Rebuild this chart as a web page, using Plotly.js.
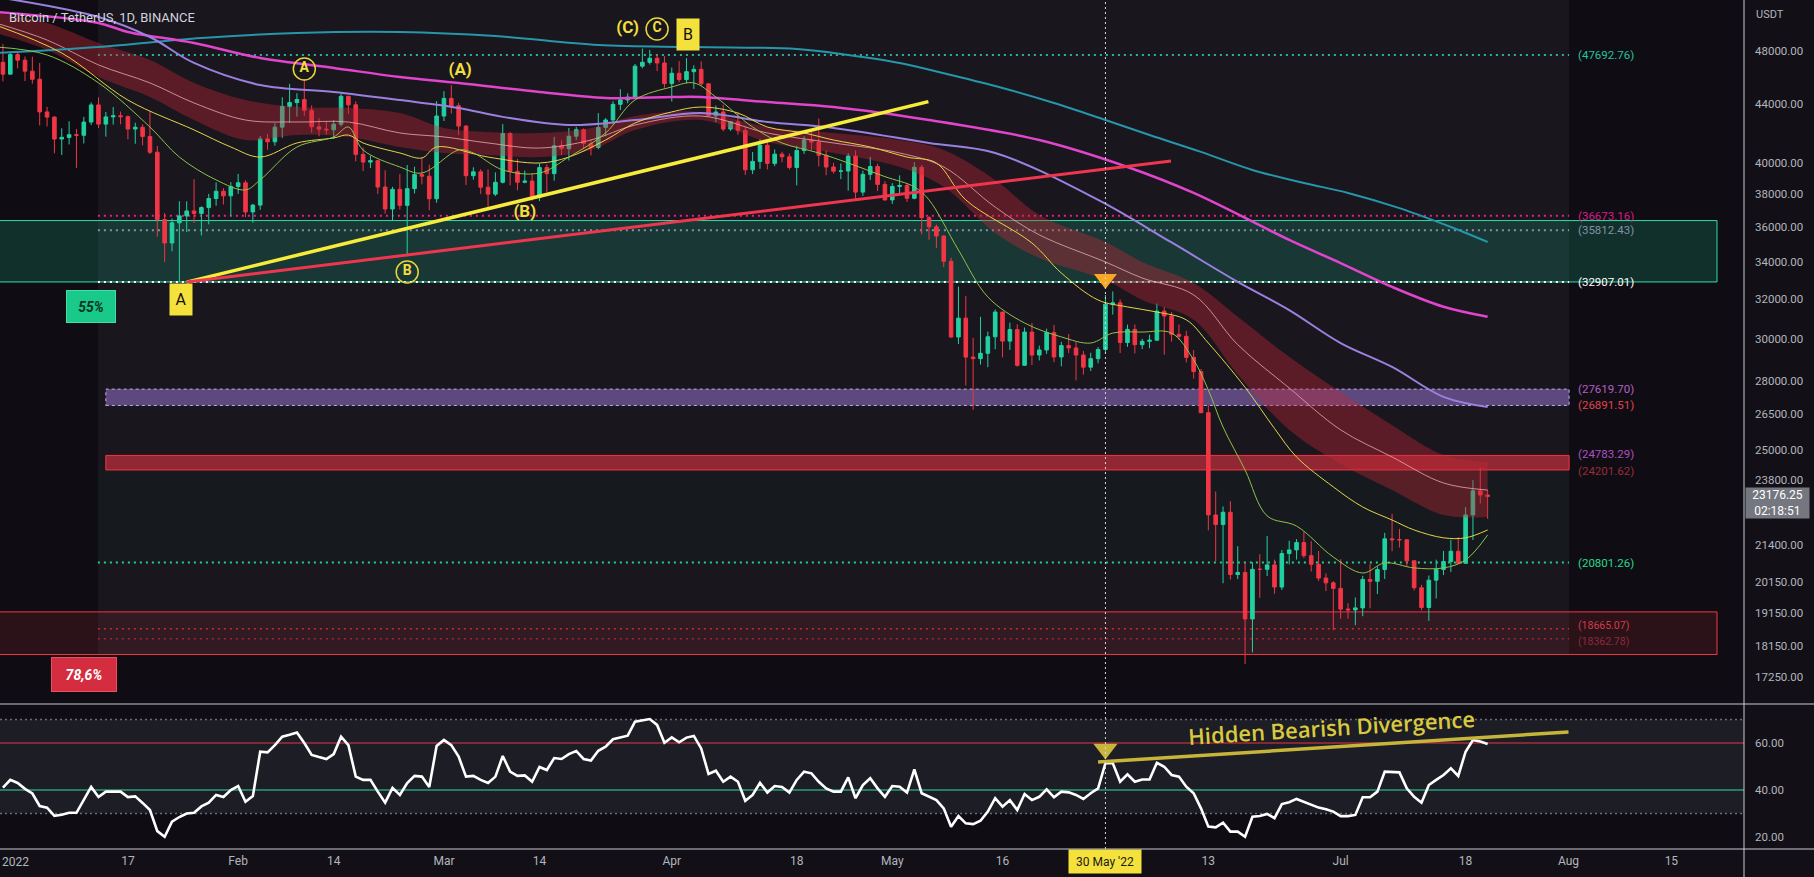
<!DOCTYPE html>
<html>
<head>
<meta charset="utf-8">
<title>BTCUSDT 1D</title>
<script src="https://cdn.plot.ly/plotly-3.0.1.min.js"></script>
<style>
  html, body { margin: 0; padding: 0; background: #121016; overflow: hidden; }
  #chart { width: 1814px; height: 877px; }
</style>
</head>
<body>
<div id="chart"></div>
<script>
// daily candles, 31 Dec 2021 .. 21 Jul 2022 (one value per day)
const opens = [
  47120,46217,47722,47286,46446,45832,43451,43082,41566,41679,
  41864,41822,42736,43949,42592,43099,43178,43114,42251,42375,
  41744,40680,36445,35071,36244,36660,36958,36809,37160,37716,
  38166,37881,38466,38694,36896,37311,41574,41382,42380,43840,
  44118,44338,43565,42407,42244,42197,42586,44575,43961,40538,
  40030,40122,38431,37075,38286,37296,38327,39219,39116,37700,
  43160,44421,43892,42455,39148,39397,38420,37988,38730,41941,
  39422,38730,38807,37777,39671,39281,41114,40917,41757,42201,
  41262,41002,42364,42882,43991,44313,44511,46827,47122,47434,
  47067,45510,46283,45811,46407,46580,45497,43170,43444,42252,
  42753,42158,39530,40074,41147,39942,40551,40378,39678,40801,
  41493,41358,40480,39709,39441,39450,40426,38112,39235,39742,
  38596,37630,38468,38525,37729,39690,36552,36013,35472,34039,
  30076,31017,29103,29030,29287,30086,31328,29874,30444,28715,
  30319,29201,29445,30293,29110,29655,29542,29201,28630,29031,
  29468,31734,31801,29805,30452,29700,29864,29919,31373,31125,
  30204,30109,29091,28424,26574,22485,22136,22583,20401,20468,
  18970,20574,20573,20723,19987,21110,21237,21492,21038,20742,
  20281,20123,19942,19279,19252,19316,20236,20175,20564,21624,
  21594,21591,20862,19963,19328,20212,20569,20836,21190,20780,
  22485,23389,23231
];
const highs = [
  48548,47954,47990,47570,47557,47070,43816,43145,42300,42786,
  42248,43100,44135,44500,43448,43800,43475,43200,42691,42578,
  43505,41100,36835,36499,37550,37545,38919,37234,38000,38720,
  38359,38744,39265,38855,37387,41772,41913,42656,44500,45492,
  44799,45821,43920,43000,42760,42876,44751,44578,44200,40998,
  40443,40150,39495,38439,39249,39843,39727,40300,39855,44225,
  44949,45400,44101,42527,39693,39566,39547,39362,42594,42039,
  40236,39486,39310,39947,39887,41718,41478,42325,42400,42296,
  41544,43361,43025,44220,45094,44792,46999,48189,48096,47700,
  47600,46720,47213,47444,46890,47200,45507,43900,43970,42800,
  43410,42414,40699,41561,41500,40870,40709,40595,41116,41760,
  42199,42976,40795,39980,39940,40616,40797,39474,40372,39925,
  38795,38675,39167,38650,40023,39845,36650,36146,35514,34243,
  32659,32162,30032,31083,30343,31460,31328,30788,30709,30545,
  30777,29656,30487,30670,29836,30223,29856,29397,29311,29587,
  32222,32399,31982,30689,30699,29988,30189,31765,31589,31327,
  30700,30382,29440,28544,26895,23362,22800,22995,21365,20792,
  20815,21090,21723,20900,21233,21558,21614,21868,21540,21200,
  20432,20179,20918,19467,19647,20354,20750,20675,21838,22527,
  21980,21607,20868,20059,20366,20900,21200,21588,21684,22777,
  23800,24276,23427
];
const lows = [
  45678,46208,46654,45696,45500,42500,42430,40610,40501,41200,
  39650,41268,42528,42311,41725,42555,42581,41540,41250,41138,
  40553,35440,34008,34601,32917,35701,36234,35507,36155,37268,
  37351,36632,38000,36586,36250,37026,40843,41116,41645,42666,
  43117,43174,42002,41748,41870,41571,42428,43308,40073,39450,
  39639,38000,36800,36351,37036,34322,38027,38600,37000,37450,
  42809,43334,41832,38550,38895,37999,37155,37867,38656,38540,
  38223,38660,37578,37555,38098,38828,40500,40136,41499,40911,
  40467,40875,41751,42560,43579,44072,44421,46663,46950,46445,
  45200,44200,45620,45530,45118,45353,43121,42727,42107,42125,
  41868,39200,39254,39588,39551,39766,40020,39546,38536,40571,
  40820,39751,39177,39285,38929,38200,37702,37881,38881,38175,
  37578,37386,38052,37500,37670,35571,35258,34785,33713,30033,
  29730,27785,26700,28751,28630,29480,29087,29450,28654,28694,
  28730,28947,29255,28866,28669,29294,28019,28282,28450,28811,
  29300,31200,29301,29594,29282,29485,29531,29890,29218,29843,
  29944,28850,28100,26560,21925,20846,20111,20232,20246,17622,
  17960,19637,20348,19770,19890,20740,20906,20960,20500,20188,
  19854,18626,18975,18977,18781,19055,19304,19761,20251,21189,
  21322,20655,19875,19240,18910,19616,20383,20478,20755,20762,
  21581,22906,22341
];
const closes = [
  46216,47722,47286,46446,45832,43451,43082,41566,41679,41864,
  41822,42736,43949,42592,43099,43178,43114,42251,42375,41744,
  40680,36445,35071,36244,36660,36958,36809,37160,37716,38166,
  37881,38466,38694,36896,37311,41574,41382,42380,43840,44118,
  44338,43565,42407,42244,42197,42586,44575,43961,40538,40030,
  40122,38431,37075,38286,37296,38327,39219,39116,37700,43160,
  44421,43892,42455,39148,39397,38420,37988,38730,41941,39422,
  38730,38807,37777,39671,39281,41114,40917,41757,42201,41262,
  41002,42364,42882,43991,44313,44511,46827,47122,47434,47067,
  45510,46283,45811,46407,46580,45497,43170,43444,42252,42753,
  42158,39530,40074,41147,39942,40551,40378,39678,40801,41493,
  41358,40480,39709,39441,39450,40426,38112,39235,39742,38596,
  37630,38468,38525,37729,39690,36552,36013,35472,34039,30076,
  31017,29103,29030,29287,30086,31328,29874,30444,28715,30319,
  29201,29445,30293,29110,29655,29542,29201,28630,29031,29468,
  31734,31801,29805,30452,29700,29864,29919,31373,31125,30204,
  30109,29091,28424,26574,22487,22136,22583,20401,20468,18970,
  20574,20573,20723,19987,21110,21237,21492,21038,20742,20281,
  20123,19942,19279,19252,19316,20236,20175,20564,21624,21594,
  21591,20862,19963,19328,20212,20569,20836,21190,20780,22485,
  23389,23231,23176.25
];
// RSI, same days
const rsi = [
  41,44.3,43,40.5,38.5,33.2,32.5,29,29.5,30.3,
  30.3,35.5,41.3,37,39.3,39.3,39.3,37,37.3,34.5,
  31.5,22.5,20.1,26.5,28.5,30,30.3,33,34.6,37.9,
  37,40,41.7,35,37.4,56.3,56,59.1,62.7,63.5,
  64.5,60,54.9,54,53.2,55.3,62.7,59.1,45.7,44.3,
  44.3,39.3,34.6,40.9,37.9,43,46,45.7,41.3,58.7,
  61.3,59.1,54.2,45.7,46,44.3,43,45.7,54.5,47.8,
  46,46.2,43.5,49.8,48.5,53.6,53.2,55.3,56.6,53.2,
  52.5,56.7,58.4,61.6,62.5,63.1,69.1,69.7,70.2,67.7,
  60.1,62.4,60.3,62.3,63,57.7,46.8,48.2,43.5,45.7,
  43.5,35.4,37.9,43.1,38.9,41.7,41.3,38.9,44.3,47.8,
  47.1,43.5,40.7,39.3,39.3,45.4,36.5,42.1,45,40.7,
  37.1,41.7,41.4,38.9,48.8,38.6,37.1,35.7,32.2,24.4,
  28.9,25.8,25.5,26.9,30.8,36.5,32.9,35.7,31.5,38.3,
  35.7,37.1,40.3,36.9,39.3,39,37.9,36.2,38.6,40.7,
  51.4,51.4,43.5,46.7,43.5,44.5,44.5,51.6,49.9,46.4,
  45.7,41.4,38.6,32.2,24.4,24.1,26.1,22.3,22.3,20.1,
  28.6,28.9,29.8,28,34,34.8,36.2,35,34,32.5,
  31.8,30.8,28.9,28.9,29.4,36.9,36.9,39.3,47.8,47.8,
  47.5,40.7,37.1,34.6,42.1,44.3,46.4,49.2,46,56.3,
  61.3,60.6,59.6
];

// moving averages
const tealDates = ['2021-12-30','2022-01-13','2022-01-27','2022-02-09','2022-02-23','2022-03-08','2022-03-22','2022-04-04','2022-04-18','2022-04-25','2022-05-02','2022-05-09','2022-05-16','2022-05-23','2022-05-30','2022-06-05','2022-06-12','2022-06-19','2022-06-26','2022-07-02','2022-07-09','2022-07-16','2022-07-21'];
const tealMA = [47840,48310,49030,49440,49520,49190,48470,48310,48160,47690,47070,46150,45180,44090,42880,41840,40700,39520,38690,38060,37130,36000,35130];

const magentaDates = ['2021-12-30','2022-01-13','2022-01-17','2022-01-26','2022-02-04','2022-02-14','2022-02-23','2022-03-03','2022-03-14','2022-03-23','2022-04-01','2022-04-05','2022-04-14','2022-04-23','2022-05-06','2022-05-21','2022-06-02','2022-06-11','2022-06-24','2022-07-01','2022-07-08','2022-07-15','2022-07-21'];
const magentaMA = [51160,50250,49520,48630,47450,46690,46000,45560,44890,44450,44520,44520,44160,43800,42880,41500,39710,38060,35250,33940,32640,31600,31090];

const lavenderDates = ['2021-12-30','2022-01-13','2022-01-20','2022-01-26','2022-02-04','2022-02-14','2022-02-23','2022-03-03','2022-03-09','2022-03-18','2022-03-27','2022-04-05','2022-04-14','2022-04-23','2022-05-06','2022-05-15','2022-05-29','2022-06-08','2022-06-17','2022-06-24','2022-07-01','2022-07-08','2022-07-15','2022-07-21'];
const lavenderMA = [52440,50740,49110,47070,45400,44890,44300,43730,43100,42530,42880,43370,42740,42330,41300,40630,37630,35100,32910,31430,29780,28640,27270,26820];

const ribbonDates = ['2021-12-30','2022-01-06','2022-01-13','2022-01-20','2022-01-26','2022-02-02','2022-02-09','2022-02-16','2022-02-23','2022-03-01','2022-03-07','2022-03-14','2022-03-21','2022-03-27','2022-04-05','2022-04-14','2022-04-23','2022-05-02','2022-05-08','2022-05-15','2022-05-21','2022-05-30','2022-06-04','2022-06-11','2022-06-17','2022-06-24','2022-07-01','2022-07-08','2022-07-15','2022-07-21'];
const ribbonUpper = [51080,50250,48630,47300,45560,44310,43800,43730,43370,42330,42050,41980,42330,43160,43450,42390,41980,41500,40830,38880,36720,35130,34000,32850,31090,29120,27490,26040,24800,24520];
const ribbonMid = [50250,48870,46920,45560,44090,42880,42740,42740,41980,41710,41300,40960,41500,42530,43160,41980,41300,40630,39710,37190,35540,34000,33120,32220,29700,27670,25840,24720,23690,23420];
const ribbonLower = [49440,48080,46000,44520,42880,41500,41840,41710,41030,40630,40500,40360,40830,42190,42880,41370,40630,39710,38440,35650,34220,33010,31950,30930,28290,25840,24440,23420,22480,22410];

const yellowDates = ['2021-12-30','2022-01-08','2022-01-17','2022-01-26','2022-01-31','2022-02-04','2022-02-09','2022-02-14','2022-02-16','2022-02-18','2022-02-23','2022-02-26','2022-02-28','2022-03-07','2022-03-14','2022-03-18','2022-03-23','2022-03-27','2022-04-01','2022-04-05','2022-04-10','2022-04-14','2022-04-19','2022-04-23','2022-04-28','2022-05-03','2022-05-07','2022-05-11','2022-05-20','2022-05-24','2022-05-29','2022-06-02','2022-06-06','2022-06-10','2022-06-13','2022-06-18','2022-06-22','2022-06-25','2022-06-30','2022-07-04','2022-07-08','2022-07-11','2022-07-15','2022-07-18','2022-07-21'];
const yellowMA = [50080,47840,44300,42190,41030,40360,41300,41640,41840,41300,40630,40300,41030,40360,39970,40360,41500,42670,43450,43800,43370,42390,41980,41500,41030,40360,39970,37630,35070,33390,31950,31590,31330,30930,29780,27700,25900,24720,23540,22780,22300,21940,21660,21660,21940];

const greenDates = ['2021-12-30','2022-01-06','2022-01-13','2022-01-20','2022-01-24','2022-01-29','2022-02-02','2022-02-04','2022-02-09','2022-02-14','2022-02-16','2022-02-18','2022-02-23','2022-02-26','2022-03-03','2022-03-05','2022-03-09','2022-03-14','2022-03-18','2022-03-23','2022-03-27','2022-04-01','2022-04-04','2022-04-07','2022-04-12','2022-04-16','2022-04-21','2022-04-25','2022-04-30','2022-05-04','2022-05-06','2022-05-10','2022-05-14','2022-05-19','2022-05-24','2022-05-28','2022-05-31','2022-06-04','2022-06-08','2022-06-11','2022-06-13','2022-06-15','2022-06-18','2022-06-21','2022-06-25','2022-06-30','2022-07-04','2022-07-07','2022-07-11','2022-07-15','2022-07-18','2022-07-21'];
const greenMA = [48320,47690,45560,42390,40360,38880,38250,38880,41030,41710,42390,40830,39710,39320,40830,40630,39520,39320,40360,41980,44310,45260,45560,44520,42390,41300,40630,39970,39090,38440,37630,34670,32110,30770,30080,29780,30270,30320,30270,28970,27580,25960,24200,22450,22080,20990,20450,20790,20620,20620,20890,21760];

// horizontal levels and zones
const levelLines = [47692.76, 36673.16, 35812.43, 32907.01, 20801.26, 18665.07, 18362.78];
const levelLabels = [47692.76, 36673.16, 35812.43, 32907.01, 27619.70, 26891.51, 24783.29, 24201.62, 20801.26, 18665.07, 18362.78];
const greenZone = [32907.01, 36380];
const purpleZone = [26891.51, 27619.70];
const redZone = [24201.62, 24783.29];
const lowZone = [17900, 19190];

// drawings
const yellowTrendDates = ['2022-01-25', '2022-05-05 22:00'];
const yellowTrend = [32900, 44190];
const redTrendDates = ['2022-01-25', '2022-06-07 22:00'];
const redTrend = [32900, 40100];
const circleDates = ['2022-02-10', '2022-02-24', '2022-03-30'];
const circlePrices = [46610, 33450, 49760];
const circleText = ['A', 'B', 'C'];
const parenDates = ['2022-03-03 05:00', '2022-03-12', '2022-03-26'];
const parenPrices = [46460, 36830, 49760];
const parenText = ['(A)', '(B)', '(C)'];
const markDate = '2022-05-30';
const markPrice = 33060;
const divDates = ['2022-05-29', '2022-08-01'];
const divRsi = [51.9, 64.7];
const divMark = 57.4;

// axis ticks (the "2022" year label at the left edge is placed separately)
const priceTicks = [48000, 44000, 40000, 38000, 36000, 34000, 32000, 30000, 28000, 26500, 25000, 23800, 21400, 20150, 19150, 18150, 17250];
const rsiTicks = [20, 40, 60];
const dateTicks = ['2022-01-17','2022-02-01','2022-02-14','2022-03-01','2022-03-14','2022-04-01','2022-04-18','2022-05-01','2022-05-16','2022-06-13','2022-07-01','2022-07-18','2022-08-01','2022-08-15'];
const dateTickText = ['17','Feb','14','Mar','14','Apr','18','May','16','13','Jul','18','Aug','15'];
const yearLabel = '2022';

// ---------- styles ----------
const labelColors = ['#26c29b','#d81b8a','#8391a8','#ffffff','#b45fc6','#e0434f','#b04fc0','#9a2b3b','#27d98a','#d43a4a','#8e2a38'];
const labelShift = [0, 0, 0, 0, 0, 0, 1, -1, 0, 3, -3];
const lineColors = ['#26b59a','#e91e8c','#8a93a6','#ffffff','#22d08a','#c8283c','#a02636'];
const FONT = 'Roboto, "Noto Sans", sans-serif';
const axisText = '#b2b5be';
const rangeStart = '2022-01-12 22:00';
const rangeEnd = '2022-08-01 02:00';
const boxStart = '2022-01-14';
const farLeft = '2021-12-20';
const farEnd = '2022-08-21 05:00';
const rsiFrac = 145 / 849;

const days = closes.map((_, i) => new Date(Date.UTC(2021, 11, 31 + i)).toISOString().slice(0, 10));

function maLine(x, y, color, width) {
    return { x: x, y: y, type: 'scatter', mode: 'lines', line: { color: color, width: width, shape: 'spline' }, hoverinfo: 'skip' };
}

const traces = [
    { x: ribbonDates, y: ribbonUpper, type: 'scatter', mode: 'lines', line: { width: 0, shape: 'spline' } },
    { x: ribbonDates, y: ribbonLower, type: 'scatter', mode: 'lines', line: { width: 0, shape: 'spline' },
      fill: 'tonexty', fillcolor: 'rgba(200,40,55,0.38)' },
    maLine(ribbonDates, ribbonMid, 'rgba(230,170,175,0.8)', 1),
    maLine(tealDates, tealMA, '#2696aa', 2),
    maLine(magentaDates, magentaMA, '#e045cc', 2.5),
    maLine(lavenderDates, lavenderMA, '#9b80e0', 2),
    maLine(yellowDates, yellowMA, '#e3d54a', 1),
    maLine(greenDates, greenMA, '#8bc34a', 1),
    {
        x: days, open: opens, high: highs, low: lows, close: closes,
        type: 'candlestick', xaxis: 'x', yaxis: 'y',
        increasing: { line: { color: '#22d1a1', width: 1 }, fillcolor: '#22d1a1' },
        decreasing: { line: { color: '#f23645', width: 1 }, fillcolor: '#f23645' },
        whiskerwidth: 0, hoverinfo: 'skip'
    },
    { x: yellowTrendDates, y: yellowTrend, type: 'scatter', mode: 'lines', line: { color: '#f7eb3b', width: 3.5 } },
    { x: redTrendDates, y: redTrend, type: 'scatter', mode: 'lines', line: { color: '#f0364f', width: 3 } },
    {
        x: circleDates, y: circlePrices, text: circleText, type: 'scatter', mode: 'markers+text',
        marker: { symbol: 'circle-open', size: 22, color: '#e8d53a', line: { width: 1.5 } },
        textposition: 'middle center', textfont: { family: FONT, size: 14, color: '#f0df3c', weight: 700 }
    },
    {
        x: parenDates, y: parenPrices, text: parenText, type: 'scatter', mode: 'text',
        textposition: 'middle center', textfont: { family: FONT, size: 17, color: '#f0df3c', weight: 700 }
    },
    { x: [markDate], y: [markPrice], type: 'scatter', mode: 'markers', marker: { symbol: 'triangle-down', size: 20, color: '#f9a825' } },
    // RSI pane
    { x: days, y: rsi, type: 'scatter', mode: 'lines', yaxis: 'y2', line: { color: '#ffffff', width: 2.6 } },
    { x: divDates, y: divRsi, type: 'scatter', mode: 'lines', yaxis: 'y2', line: { color: '#c7b43a', width: 3.5 } },
    { x: [markDate], y: [divMark], type: 'scatter', mode: 'markers', yaxis: 'y2', marker: { symbol: 'triangle-down', size: 21, color: '#c9b53a' } }
];

const shapes = [
    // lighter drawing range
    { type: 'rect', xref: 'x', yref: 'y', x0: rangeStart, x1: rangeEnd, y0: lowZone[0], y1: 60000, fillcolor: '#19161e', line: { width: 0 }, layer: 'below' },
    { type: 'rect', xref: 'x', yref: 'y', x0: rangeStart, x1: rangeEnd, y0: levelLines[4], y1: redZone[0], fillcolor: '#161a1e', line: { width: 0 }, layer: 'below' },
    // zones
    { type: 'rect', xref: 'x', yref: 'y', x0: farLeft, x1: farEnd, y0: greenZone[0], y1: greenZone[1], fillcolor: 'rgba(24,190,140,0.20)', line: { color: '#2ee0a2', width: 1 }, layer: 'below' },
    { type: 'rect', xref: 'x', yref: 'y', x0: farLeft, x1: farEnd, y0: lowZone[0], y1: lowZone[1], fillcolor: 'rgba(242,54,69,0.12)', line: { color: '#f23645', width: 1 }, layer: 'below' },
    { type: 'rect', xref: 'x', yref: 'y', x0: boxStart, x1: rangeEnd, y0: purpleZone[0], y1: purpleZone[1], fillcolor: 'rgba(149,117,205,0.55)', line: { color: '#c4a8f0', width: 1, dash: '3px,3px' }, layer: 'below' },
    { type: 'rect', xref: 'x', yref: 'y', x0: boxStart, x1: rangeEnd, y0: redZone[0], y1: redZone[1], fillcolor: 'rgba(242,54,69,0.55)', line: { color: '#f23645', width: 1 }, layer: 'below' },
    // RSI band and levels
    { type: 'rect', xref: 'paper', yref: 'y2', x0: 0, x1: 1, y0: 30, y1: 70, fillcolor: '#1d1d25', line: { width: 0 }, layer: 'below' },
    { type: 'line', xref: 'paper', yref: 'y2', x0: 0, x1: 1, y0: 70, y1: 70, line: { color: '#6a6d78', width: 1.5, dash: '2px,3px' }, layer: 'below' },
    { type: 'line', xref: 'paper', yref: 'y2', x0: 0, x1: 1, y0: 30, y1: 30, line: { color: '#6a6d78', width: 1.5, dash: '2px,3px' }, layer: 'below' },
    { type: 'line', xref: 'paper', yref: 'y2', x0: 0, x1: 1, y0: 60, y1: 60, line: { color: '#e8344a', width: 1 }, layer: 'below' },
    { type: 'line', xref: 'paper', yref: 'y2', x0: 0, x1: 1, y0: 40, y1: 40, line: { color: '#2ee0a2', width: 1 }, layer: 'below' },
    // crosshair on 30 May
    { type: 'line', xref: 'x', yref: 'paper', x0: markDate, x1: markDate, y0: 0, y1: 1, line: { color: '#d8d8d8', width: 1, dash: '2px,3px' } },
    // pane separators
    { type: 'line', xref: 'paper', yref: 'paper', x0: 0, x1: 1814 / 1744, y0: rsiFrac, y1: rsiFrac, line: { color: '#c8cbd4', width: 1 } },
    { type: 'line', xref: 'paper', yref: 'paper', x0: 0, x1: 1814 / 1744, y0: 0, y1: 0, line: { color: '#c8cbd4', width: 1 } },
    { type: 'line', xref: 'paper', yref: 'paper', x0: 1, x1: 1, y0: -28 / 849, y1: 1, line: { color: '#c8cbd4', width: 1 } }
];
levelLines.forEach((v, i) => shapes.push({
    type: 'line', xref: 'x', yref: 'y', x0: rangeStart, x1: rangeEnd, y0: v, y1: v,
    line: { color: lineColors[i], width: i >= 5 ? 1.5 : 2, dash: '2px,4px' }, layer: 'below'
}));

const annotations = [
    { xref: 'paper', yref: 'paper', x: 0.004, y: (849 - 17) / 849, xanchor: 'left', yanchor: 'middle', showarrow: false,
      text: 'Bitcoin / TetherUS, 1D, BINANCE', font: { family: FONT, size: 13, color: '#d1d4dc' } },
    { xref: 'paper', yref: 'paper', x: 1754 / 1744, y: (849 - 14) / 849, xanchor: 'left', yanchor: 'middle', showarrow: false,
      text: 'USDT', font: { family: FONT, size: 11, color: axisText } },
    { xref: 'paper', yref: 'paper', x: 0, y: -13 / 849, xanchor: 'left', yanchor: 'middle', showarrow: false,
      text: yearLabel, font: { family: FONT, size: 12, color: axisText } },
    { xref: 'paper', yref: 'y', x: 1 + 1 / 1744, y: Math.log10(closes[closes.length - 1]), xanchor: 'left', yanchor: 'top', yshift: 9,
      showarrow: false, width: 63, height: 30, borderpad: 0, bgcolor: '#74777f', align: 'center',
      text: closes[closes.length - 1].toFixed(2) + '<br>02:18:51', font: { family: FONT, size: 12, color: '#ffffff' } },
    { xref: 'paper', yref: 'paper', x: 181 / 1744, y: (849 - 300) / 849, xanchor: 'center', yanchor: 'middle', showarrow: false,
      width: 22, height: 31, borderpad: 0, bgcolor: '#f5e13b', text: 'A', font: { family: FONT, size: 16, color: '#111111' } },
    { xref: 'paper', yref: 'paper', x: 688 / 1744, y: (849 - 35) / 849, xanchor: 'center', yanchor: 'middle', showarrow: false,
      width: 22, height: 31, borderpad: 0, bgcolor: '#f5e13b', text: 'B', font: { family: FONT, size: 16, color: '#111111' } },
    { xref: 'paper', yref: 'paper', x: 91 / 1744, y: (849 - 306) / 849, xanchor: 'center', yanchor: 'middle', showarrow: false,
      width: 48, height: 31, borderpad: 0, bgcolor: '#19c98a', bordercolor: '#3ee0a8', borderwidth: 1,
      text: '<i><b>55%</b></i>', font: { family: FONT, size: 14, color: '#0b3326' } },
    { xref: 'paper', yref: 'paper', x: 84 / 1744, y: (849 - 674) / 849, xanchor: 'center', yanchor: 'middle', showarrow: false,
      width: 64, height: 33, borderpad: 0, bgcolor: '#d42d3f', bordercolor: '#e85062', borderwidth: 1,
      text: '<i><b>78,6%</b></i>', font: { family: FONT, size: 14, color: '#ffffff' } },
    { xref: 'x', yref: 'paper', x: markDate, y: -12.5 / 849, xanchor: 'center', yanchor: 'middle', showarrow: false,
      width: 72, height: 23, borderpad: 0, bgcolor: '#f5e13b', text: "30 May '22", font: { family: FONT, size: 12, color: '#1a1a1a' } },
    { xref: 'x', yref: 'y2', x: '2022-06-29 17:00', y: 66.8, xanchor: 'center', yanchor: 'middle', showarrow: false, textangle: -3.6,
      text: 'Hidden Bearish Divergence', font: { family: '"Open Sans", sans-serif', size: 22, weight: 600, color: '#d9c93e' } }
];
levelLabels.forEach((v, i) => annotations.push({
    xref: 'x', yref: 'y', x: '2022-08-02 02:00', y: Math.log10(v), xanchor: 'left', yanchor: 'middle', showarrow: false,
    yshift: labelShift[i], text: '(' + v.toFixed(2) + ')',
    font: { family: FONT, size: i >= 9 ? 10.5 : 11.5, color: labelColors[i] }
}));

const layout = {
    width: 1814, height: 877,
    margin: { l: 0, r: 70, t: 0, b: 28, pad: 0 },
    paper_bgcolor: '#121016', plot_bgcolor: '#0f0d13',
    showlegend: false, hovermode: false, dragmode: false,
    font: { family: FONT, color: axisText },
    xaxis: {
        type: 'date', range: ['2021-12-30 14:22', '2022-08-24 21:07'], anchor: 'y2',
        showgrid: false, zeroline: false, showline: false, ticks: '',
        tickvals: dateTicks, ticktext: dateTickText, tickfont: { family: FONT, size: 12, color: axisText },
        ticklabelstandoff: 3, rangeslider: { visible: false }, automargin: false
    },
    yaxis: {
        type: 'log', domain: [rsiFrac, 1], range: [Math.log10(16508), Math.log10(52172)], side: 'right', anchor: 'x',
        showgrid: false, zeroline: false, showline: false, ticks: '',
        tickvals: priceTicks, ticktext: priceTicks.map(v => v.toFixed(2)),
        tickfont: { family: FONT, size: 11.5, color: axisText }, ticklabelstandoff: 10, automargin: false
    },
    yaxis2: {
        domain: [0, rsiFrac], range: [14.89, 76.6], side: 'right', anchor: 'x',
        showgrid: false, zeroline: false, showline: false, ticks: '',
        tickvals: rsiTicks, ticktext: rsiTicks.map(v => v.toFixed(2)),
        tickfont: { family: FONT, size: 11.5, color: axisText }, ticklabelstandoff: 10, automargin: false
    },
    shapes: shapes,
    annotations: annotations
};

Plotly.newPlot('chart', traces, layout, { staticPlot: true, displayModeBar: false });
</script>
</body>
</html>
